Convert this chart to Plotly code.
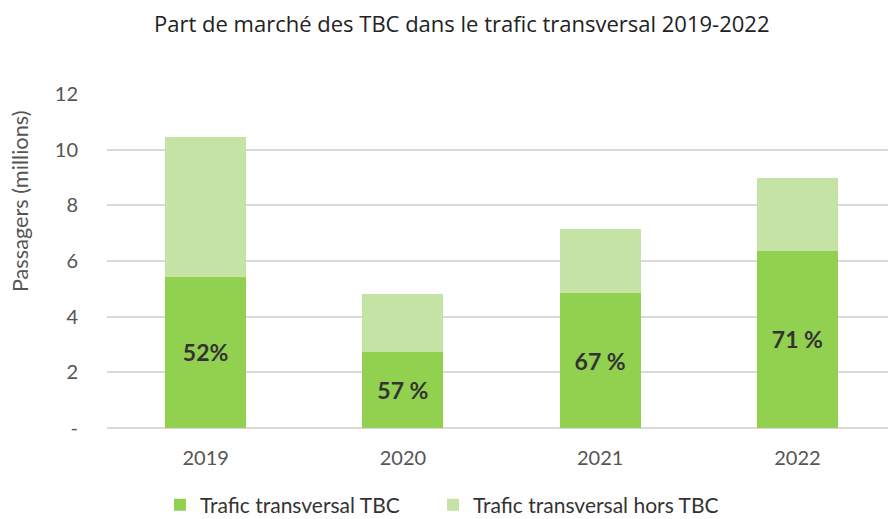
import plotly.graph_objects as go

years = ["2019", "2020", "2021", "2022"]
tbc = [5.43, 2.74, 4.84, 6.36]
hors_tbc = [5.03, 2.06, 2.31, 2.62]
part_labels = ["52%", "57 %", "67 %", "71 %"]
y_tick_vals = [0, 2, 4, 6, 8, 10, 12]
y_tick_text = ["-", "2", "4", "6", "8", "10", "12"]

FONT = "Lato, 'Open Sans', sans-serif"
TITLE_FONT = "'Open Sans', 'Noto Sans', sans-serif"

# the page adds an 8px body margin, so the figure is sized to fit inside it
fig = go.Figure()
fig.add_trace(go.Bar(
    x=years, y=tbc, name="Trafic transversal TBC",
    marker=dict(color="#92D050", line=dict(width=0)),
    text=part_labels, textposition="inside", insidetextanchor="middle",
    textangle=0,
    textfont=dict(family=FONT, size=23, color="#333333", weight="bold"),
    hoverinfo="skip", legend="legend",
))
fig.add_trace(go.Bar(
    x=years, y=hors_tbc, name="Trafic transversal hors TBC",
    marker=dict(color="#C5E3A5", line=dict(width=0)),
    hoverinfo="skip", legend="legend2",
))

legend_common = dict(orientation="h", xref="container", xanchor="left",
                     yref="container", y=0.0274, yanchor="middle",
                     font=dict(family=FONT, size=21, color="#333333"),
                     itemwidth=30, bgcolor="rgba(0,0,0,0)")

fig.update_layout(
    barmode="stack",
    bargap=0.59,
    width=888, height=511,
    margin=dict(l=99, r=0, t=86, b=91, autoexpand=False),
    paper_bgcolor="white", plot_bgcolor="white",
    font=dict(family=FONT, size=20, color="#555555"),
    title=dict(text="Part de marché des TBC dans le trafic transversal 2019-2022",
               xref="container", x=0.511, xanchor="center",
               yref="container", y=0.969, yanchor="middle",
               font=dict(family=TITLE_FONT, size=22, color="#222222")),
    legend=dict(x=0.1711, **legend_common),
    legend2=dict(x=0.4786, **legend_common),
    showlegend=True,
    annotations=[dict(text="Passagers (millions)", textangle=-90,
                      xref="paper", yref="paper", x=-0.11, y=0.68,
                      xanchor="center", yanchor="middle", showarrow=False,
                      font=dict(family=FONT, size=21.7, color="#555555"))],
)
fig.update_xaxes(showgrid=False, showline=False, ticks="", ticklabelstandoff=16,
                 tickfont=dict(size=20, color="#555555"))
fig.update_yaxes(range=[0, 12], tickvals=y_tick_vals, ticktext=y_tick_text,
                 showgrid=True, gridcolor="#D9D9D9", gridwidth=1.5,
                 zeroline=True, zerolinecolor="#D9D9D9", zerolinewidth=1.5,
                 showline=False, ticks="", ticklabelstandoff=28,
                 tickfont=dict(size=20, color="#555555"))

fig.write_html("out.html")
